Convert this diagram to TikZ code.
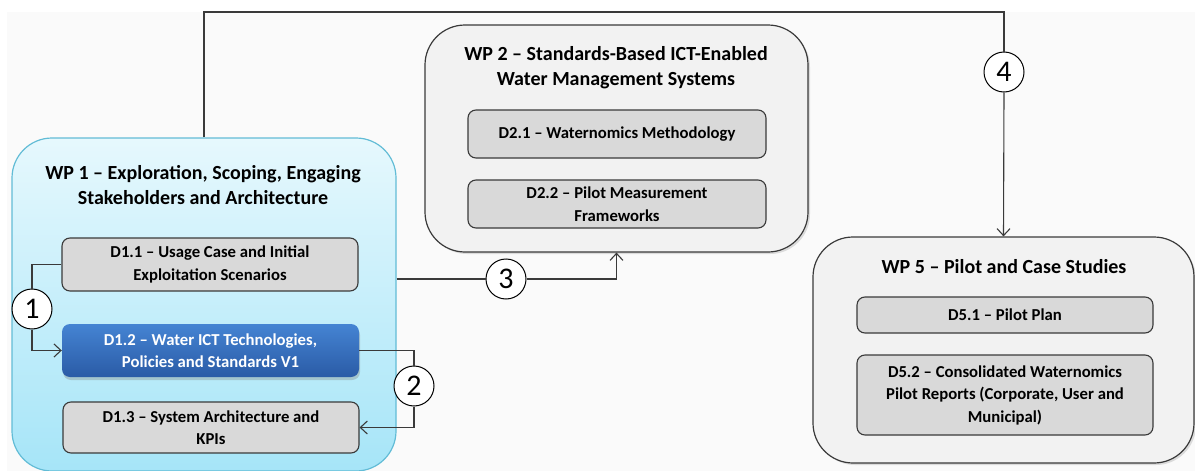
\documentclass[tikz,border=0pt]{standalone}
\usepackage{fontspec}
\setmainfont{Carlito}
\usetikzlibrary{arrows.meta,shadows,positioning}
\definecolor{bgc}{HTML}{FAFAFA}
\definecolor{wpfill}{HTML}{F2F2F2}
\definecolor{wpline}{HTML}{3A3A3A}
\definecolor{dfill}{HTML}{D9D9D9}
\definecolor{cyanline}{HTML}{62BCD6}
\definecolor{cyantop}{HTML}{E6F8FD}
\definecolor{cyanbot}{HTML}{A6E5F8}
\definecolor{bluetop}{HTML}{4584D3}
\definecolor{bluebot}{HTML}{2A5BA6}
\tikzset{
  wpbox/.style={draw=wpline, line width=1.2pt, fill=wpfill, rounded corners=40pt,
    drop shadow={shadow xshift=2pt, shadow yshift=-2pt, opacity=0.25}},
  wpone/.style={draw=cyanline, line width=1.2pt, top color=cyantop, bottom color=cyanbot, rounded corners=40pt},
  delbox/.style={draw=wpline, line width=1.1pt, fill=dfill, rounded corners=8pt, align=center,
    font=\bfseries\fontsize{16.7}{22.5}\selectfont, inner sep=0pt},
  bluebox/.style={draw=none, top color=bluetop, bottom color=bluebot, rounded corners=8pt, align=center,
    font=\bfseries\fontsize{16.7}{22.5}\selectfont, text=white, inner sep=0pt,
    drop shadow={shadow xshift=1pt, shadow yshift=-3pt, opacity=0.35}},
  title/.style={align=center, font=\bfseries\fontsize{20}{25}\selectfont, inner sep=0pt},
  num/.style={circle, draw=black, line width=1pt, fill=white, minimum size=40pt, inner sep=0pt,
    font=\fontsize{30}{30}\selectfont},
  conn/.style={draw=wpline, line width=1.1pt},
  arr/.style={conn, -{Straight Barb[length=7pt,width=13pt]}}
}
\begin{document}
\begin{tikzpicture}[x=1pt,y=-1pt]
\useasboundingbox (0,0) rectangle (1195,471);
\fill[white] (0,0) rectangle (1195,471);
\fill[bgc] (7,12) rectangle (1195,471);

% WP1
\node[wpone, minimum width=384pt, minimum height=333pt, inner sep=0pt] (wp1) at (204,304.5) {};
\node[title] (t1) at (203,185.5) {WP 1 – Exploration, Scoping, Engaging\\Stakeholders and Architecture};
\node[delbox, minimum width=296pt, minimum height=53pt] (d11) at (210,264.5) {D1.1 – Usage Case and Initial\\Exploitation Scenarios};
\node[bluebox, minimum width=297pt, minimum height=53pt] (d12) at (210.5,350.5) {D1.2 – Water ICT Technologies,\\Policies and Standards V1};
\node[delbox, minimum width=296pt, minimum height=51pt] (d13) at (211,427.5) {D1.3 – System Architecture and\\KPIs};

% WP2
\node[wpbox, minimum width=383pt, minimum height=227pt, inner sep=0pt] (wp2) at (616.5,138.5) {};
\node[title] (t2) at (616,67.5) {WP 2 – Standards-Based ICT-Enabled\\Water Management Systems};
\node[delbox, minimum width=298pt, minimum height=48pt] (d21) at (617,134) {D2.1 – Waternomics Methodology};
\node[delbox, minimum width=298pt, minimum height=48pt] (d22) at (617,204) {D2.2 – Pilot Measurement\\Frameworks};

% WP5
\node[wpbox, minimum width=381pt, minimum height=226pt, inner sep=0pt] (wp5) at (1003.5,350) {};
\node[title] (t5) at (1004,267) {WP 5 – Pilot and Case Studies};
\node[delbox, minimum width=296pt, minimum height=36pt] (d51) at (1005,315) {D5.1 – Pilot Plan};
\node[delbox, minimum width=296pt, minimum height=80pt] (d52) at (1005,395) {D5.2 – Consolidated Waternomics\\Pilot Reports (Corporate, User and\\Municipal)};

% numbered circles
\node[num] (c1) at (32,309) {1};
\node[num] (c2) at (414,386) {2};
\node[num] (c3) at (506,279) {3};
\node[num] (c4) at (1004,72) {4};

% connectors
\draw[conn] (d11.west) -| (c1.north);
\draw[arr] (c1.south) |- (d12.west);
\draw[conn] (d12.east) -| (c2.north);
\draw[arr] (c2.south) |- (d13.east);
\draw[conn] (c3.west -| wp1.east) -- (c3.west);
\draw[arr] (c3.east) -| (wp2.south);
\coordinate (top) at (204,12);
\draw[conn] (wp1.north) -- (top) -| (c4.north);
\draw[arr] (c4.south) -- (wp5.north);
\end{tikzpicture}
\end{document}
